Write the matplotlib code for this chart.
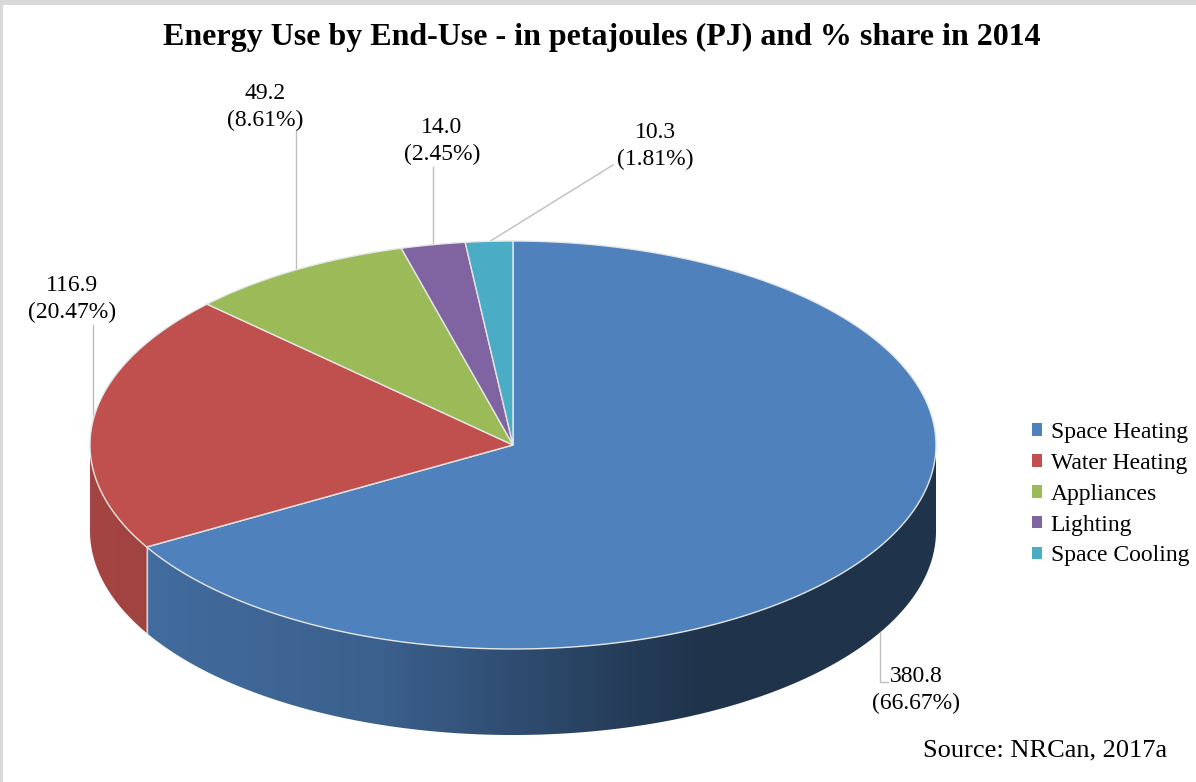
import numpy as np
import matplotlib
matplotlib.use("Agg")
import matplotlib.pyplot as plt
from matplotlib.patches import Polygon, Patch, Rectangle
from matplotlib.colors import to_rgb

plt.rcParams['font.family'] = ['Liberation Serif', 'DejaVu Serif']

# data
categories = ['Space Heating', 'Water Heating', 'Appliances', 'Lighting', 'Space Cooling']
values = [380.8, 116.9, 49.2, 14.0, 10.3]
shares = [66.67, 20.47, 8.61, 2.45, 1.81]
colors = ['#4F81BD', '#C0504D', '#9BBB59', '#8064A2', '#4BACC6']

# layout (pixel coordinates)
cx, cy, ra, rb, depth = 513, 445, 423, 204, 86
label_pos = [(916, 690), (72, 299), (265, 107), (442, 141), (655, 146)]
# leader: (start x, start y, x where it meets the pie)
leaders = [(888, 682, 880), (93, 325, 93), (296, 130, 296), (433, 167, 433), (613, 165, 490)]


def rim(t):
    t = np.radians(t)
    return cx + ra * np.cos(t), cy - rb * np.sin(t)


def shade(u):
    return np.interp(u, [-1, -0.3, 0.2, 0.45, 1], [0.86, 0.74, 0.5, 0.4, 0.4])


fig = plt.figure(figsize=(11.96, 7.82), dpi=100)
ax = fig.add_axes([0, 0, 1, 1])
ax.set_xlim(0, 1196)
ax.set_ylim(782, 0)
ax.axis('off')

# frame on top / left
ax.add_patch(Rectangle((0, 0), 1196, 5, color='#d9d9d9', lw=0))
ax.add_patch(Rectangle((0, 0), 3, 782, color='#d9d9d9', lw=0))

vals = np.array(values)
frac = vals / vals.sum()
starts = 90 - 360 * np.concatenate([[0], np.cumsum(frac)[:-1]])
ends = starts - 360 * frac

# side walls (front half only), filled with a horizontal gradient
for s, e, c in zip(starts, ends, colors):
    ts = np.linspace(e, s, 600)
    ts = ts[np.sin(np.radians(ts)) <= 0]
    if len(ts) < 2:
        continue
    top = [rim(t) for t in ts]
    bottom = [(x, y + depth) for x, y in top[::-1]]
    wall = Polygon(top + bottom, closed=True, facecolor='none', edgecolor='none')
    ax.add_patch(wall)
    xs = [p[0] for p in top]
    x0, x1 = min(xs), max(xs)
    ys = [p[1] for p in top + bottom]
    gx = np.linspace(x0, x1, 400)
    grad = np.array(to_rgb(c))[None, :] * shade((gx - cx) / ra)[:, None]
    im = ax.imshow(grad[None, :, :], extent=(x0, x1, max(ys) + 1, min(ys) - 1),
                   aspect='auto', interpolation='bilinear', zorder=1)
    im.set_clip_path(wall)

# light seams where wedge boundaries are at the front
for s in starts:
    if np.sin(np.radians(s)) < 0:
        x, y = rim(s)
        ax.plot([x, x], [y, y + depth], color='#d0d0d0', lw=1, zorder=2)

# top face
for s, e, c in zip(starts, ends, colors):
    ts = np.linspace(s, e, 200)
    pts = [rim(t) for t in ts]
    ax.add_patch(Polygon([(cx, cy)] + pts, closed=True, facecolor=c,
                         edgecolor='#e6e6e6', lw=1, zorder=3))

# data labels with leader lines
for i, ((lx, ly), (sx, sy, px), v, p, s, e) in enumerate(zip(label_pos, leaders, values, shares, starts, ends)):
    u = (px - cx) / ra
    h = rb * np.sqrt(max(0, 1 - u * u))
    mid = np.sin(np.radians((s + e) / 2))
    py = cy - h if mid > 0 else cy + h + depth
    if i == 0:
        ax.plot([sx, px, px], [sy, sy, py], color='#bfbfbf', lw=1)
    else:
        ax.plot([sx, px], [sy, py], color='#bfbfbf', lw=1)
    ax.text(lx, ly, f"{v:.1f}\n({p:.2f}%)", ha='center', va='center',
            fontsize=17, linespacing=1.35, color='#000000')

ax.text(602, 37, 'Energy Use by End-Use - in petajoules (PJ) and % share in 2014',
        ha='center', va='center', fontsize=23, fontweight='bold')
ax.text(1167, 750, 'Source: NRCan, 2017a', ha='right', va='center', fontsize=19)

handles = [Patch(facecolor=c, edgecolor='none', label=n) for c, n in zip(colors, categories)]
ax.legend(handles=handles, loc='upper left', bbox_to_anchor=(1020, 410),
          bbox_transform=ax.transData, frameon=False, fontsize=17,
          handlelength=0.45, handleheight=0.45, handletextpad=0.35,
          labelspacing=0.42, borderpad=0)

fig.savefig('out.png', dpi=100)
